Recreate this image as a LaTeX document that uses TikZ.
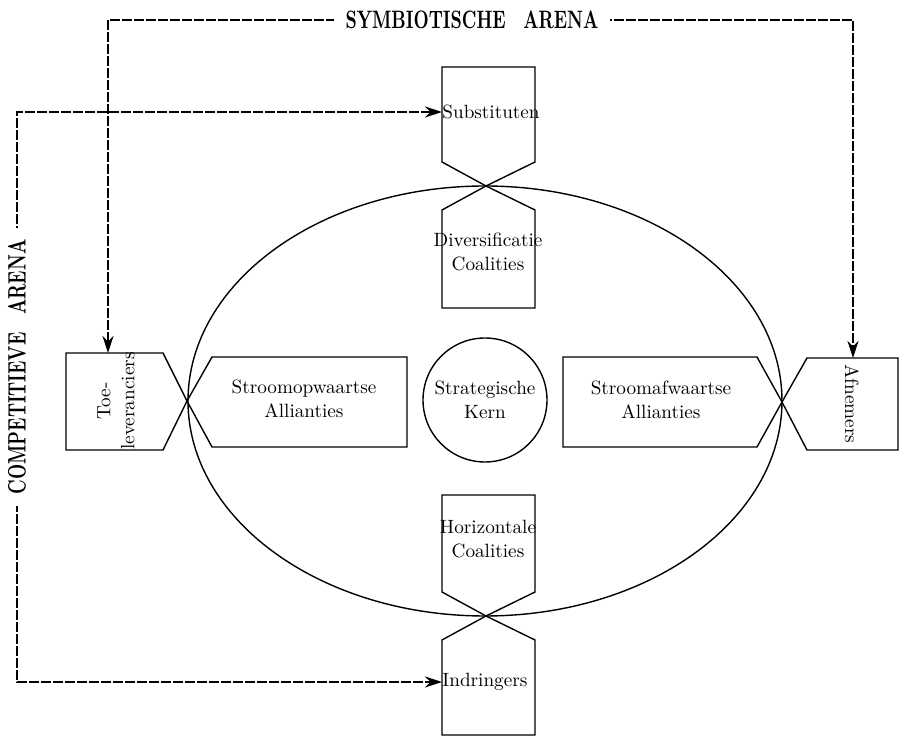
\documentclass[tikz,border=0pt]{standalone}
\usetikzlibrary{arrows.meta}
\begin{document}
\begin{tikzpicture}[x=0.5pt,y=-0.5pt,
  shapeline/.style={line width=0.7pt, line join=miter},
  conn/.style={line width=0.55pt, dash pattern=on 5pt off 1pt,
    {Stealth[length=8.5pt,width=5.5pt]}-{Stealth[length=8.5pt,width=5.5pt]}},
  lbl/.style={font=\fontsize{9.6}{12}\selectfont, align=center, inner sep=0pt},
  arena/.style={font=\fontsize{10.5}{12}\selectfont\bfseries, fill=white, inner xsep=6pt, inner ysep=1pt}]
\useasboundingbox (0,0) rectangle (902,737);

% big ellipse
\draw[shapeline] (485,401) ellipse [x radius=297, y radius=215];

% top hourglass
\draw[shapeline] (442,162) -- (442,67) -- (535,67) -- (535,162) -- (486,186) -- cycle;
\draw[shapeline] (486,186) -- (535,210) -- (535,308) -- (442,308) -- (442,210) -- cycle;
% bottom hourglass
\draw[shapeline] (442,495) -- (535,495) -- (535,592) -- (486,616) -- (442,592) -- cycle;
\draw[shapeline] (486,616) -- (535,640) -- (535,735) -- (442,735) -- (442,640) -- cycle;
% left hourglass
\draw[shapeline] (66,353) -- (163,353) -- (187,401) -- (163,450) -- (66,450) -- cycle;
\draw[shapeline] (187,401) -- (212,357) -- (407,357) -- (407,447) -- (212,447) -- cycle;
% right hourglass
\draw[shapeline] (563,357) -- (757,357) -- (782,402) -- (757,447) -- (563,447) -- cycle;
\draw[shapeline] (782,402) -- (807,358) -- (898,358) -- (898,450) -- (807,450) -- cycle;

% centre
\node[lbl, draw, circle, minimum size=62pt, line width=0.7pt] (kern) at (485,400) {Strategische\\Kern};

% labels
\node[lbl, anchor=west] (sub) at (442,112) {Substituten};
\node[lbl] (div) at (488,252) {Diversificatie\\Coalities};
\node[lbl] (hor) at (488,539) {Horizontale\\Coalities};
\node[lbl, anchor=west] (ind) at (442,682) {Indringers};
\node[lbl] (sop) at (304,399) {Stroomopwaartse\\Allianties};
\node[lbl] (saf) at (661,400) {Stroomafwaartse\\Allianties};
\node[lbl, rotate=90] (toe) at (116,401) {Toe-\\leveranciers};
\node[lbl, rotate=-90] (afn) at (852,404) {Afnemers};

% connector end points
\coordinate (toetop) at (108,353);
\coordinate (afntop) at (853,358);

% arena label positions
\coordinate (symbpos) at (472,20);
\coordinate (comppos) at (17,367);

\draw[conn] (toetop) |- (symbpos) -| (afntop);
\draw[conn] (sub.west) -| (comppos) |- (ind.west);

\node[arena] (symb) at (symbpos) {\scalebox{0.84}[1.2]{SYMBIOTISCHE\quad ARENA}};
\node[arena, rotate=90] (comp) at (comppos) {\scalebox{0.84}[1.2]{COMPETITIEVE\quad ARENA}};
\end{tikzpicture}
\end{document}
